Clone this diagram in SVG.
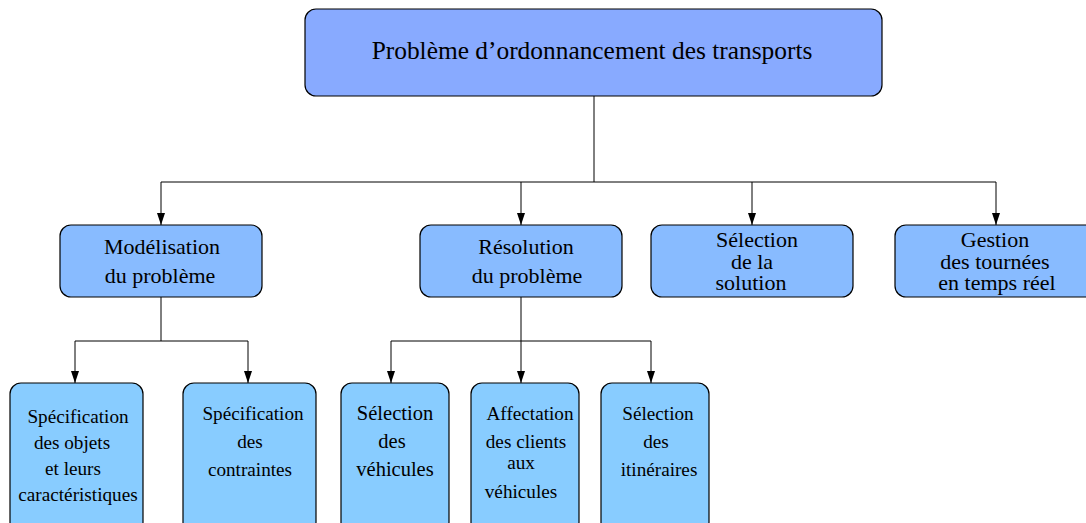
<svg xmlns="http://www.w3.org/2000/svg" width="1086" height="523" viewBox="0 0 1086 523">
<defs>
<marker id="ah" markerWidth="12" markerHeight="8" refX="12" refY="4" orient="auto" markerUnits="userSpaceOnUse" viewBox="0 0 12 8">
<path d="M0,0 L12,4 L0,8 Z" fill="#000"/>
</marker>
<style>
.b{stroke:#000;stroke-width:1.2}
.t0{fill:#88aaff}
.t1{fill:#88bbff}
.t2{fill:#88ccff}
text{font-family:"Liberation Serif","Times New Roman",serif;fill:#000;text-anchor:middle}
.f0{font-size:25.4px}
.f1{font-size:22px}
.f2{font-size:19.2px}
.f3{font-size:20.5px}
.c{fill:none;stroke:#000;stroke-width:1}
</style>
</defs>
<rect width="1086" height="523" fill="#fff"/>
<g id="connectors">
<path class="c" d="M594,96 V182 M161,182 H996"/>
<path class="c" d="M161,182 V225" marker-end="url(#ah)"/>
<path class="c" d="M521,182 V225" marker-end="url(#ah)"/>
<path class="c" d="M752,182 V225" marker-end="url(#ah)"/>
<path class="c" d="M996,182 V225" marker-end="url(#ah)"/>
<path class="c" d="M161,297 V341 M75,341 H248"/>
<path class="c" d="M75,341 V383" marker-end="url(#ah)"/>
<path class="c" d="M248,341 V383" marker-end="url(#ah)"/>
<path class="c" d="M521,297 V341 M391,341 H651"/>
<path class="c" d="M391,341 V383" marker-end="url(#ah)"/>
<path class="c" d="M521,341 V383" marker-end="url(#ah)"/>
<path class="c" d="M651,341 V383" marker-end="url(#ah)"/>
</g>
<g id="root">
<rect class="b t0" x="305" y="9" width="577" height="87" rx="11"/>
<text class="f0" x="592" y="59">Problème d’ordonnancement des transports</text>
</g>
<g id="modelisation">
<rect class="b t1" x="60" y="225" width="202" height="72" rx="11"/>
<text class="f1" x="162" y="254">Modélisation</text>
<text class="f1" x="160" y="283">du problème</text>
</g>
<g id="resolution">
<rect class="b t1" x="420" y="225" width="202" height="72" rx="11"/>
<text class="f1" x="526" y="254">Résolution</text>
<text class="f1" x="527" y="283">du problème</text>
</g>
<g id="selection-solution">
<rect class="b t1" x="651" y="225" width="202" height="72" rx="11"/>
<text class="f1" x="757" y="247">Sélection</text>
<text class="f1" x="752" y="269">de la</text>
<text class="f1" x="751" y="290">solution</text>
</g>
<g id="gestion">
<rect class="b t1" x="895" y="225" width="202" height="72" rx="11"/>
<text class="f1" x="995" y="247">Gestion</text>
<text class="f1" x="995" y="269">des tournées</text>
<text class="f1" x="997" y="290">en temps réel</text>
</g>
<g id="spec-objets">
<rect class="b t2" x="10" y="383" width="133" height="150" rx="11"/>
<text class="f2" x="78" y="423">Spécification</text>
<text class="f2" x="72" y="449">des objets</text>
<text class="f2" x="73" y="475">et leurs</text>
<text class="f2" x="78" y="501">caractéristiques</text>
</g>
<g id="spec-contraintes">
<rect class="b t2" x="183" y="383" width="133" height="150" rx="11"/>
<text class="f2" x="253" y="420">Spécification</text>
<text class="f2" x="250" y="448">des</text>
<text class="f2" x="250" y="476">contraintes</text>
</g>
<g id="sel-vehicules">
<rect class="b t2" x="341" y="383" width="108" height="150" rx="11"/>
<text class="f3" x="395" y="420">Sélection</text>
<text class="f3" x="392" y="448">des</text>
<text class="f3" x="395" y="476">véhicules</text>
</g>
<g id="affectation">
<rect class="b t2" x="471" y="383" width="108" height="150" rx="11"/>
<text class="f2" x="530" y="420">Affectation</text>
<text class="f2" x="526" y="448">des clients</text>
<text class="f2" x="521" y="469">aux</text>
<text class="f2" x="521" y="498">véhicules</text>
</g>
<g id="sel-itineraires">
<rect class="b t2" x="601" y="383" width="108" height="150" rx="11"/>
<text class="f2" x="658" y="420">Sélection</text>
<text class="f2" x="656" y="448">des</text>
<text class="f2" x="659" y="476">itinéraires</text>
</g>
</svg>
